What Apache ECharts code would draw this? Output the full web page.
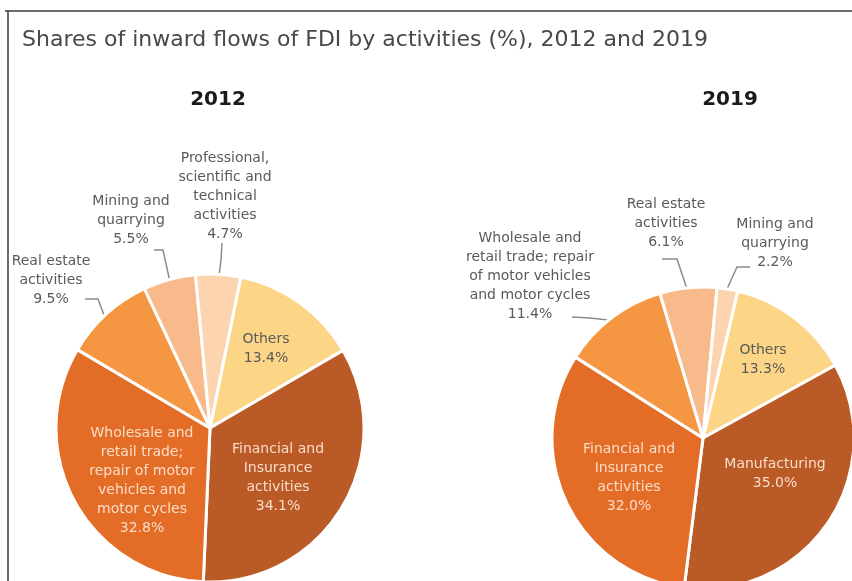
<!DOCTYPE html>
<html><head><meta charset="utf-8">
<script src="https://cdn.jsdelivr.net/npm/echarts@6/dist/echarts.min.js"></script>
<style>html,body{margin:0;padding:0;background:#fff}#c{width:852px;height:581px}</style>
</head><body><div id="c"></div>
<script>
const title = 'Shares of inward flows of FDI by activities (%), 2012 and 2019';
const years = ['2012', '2019'];

const categories2012 = ['Others', 'Financial and Insurance activities',
  'Wholesale and retail trade; repair of motor vehicles and motor cycles',
  'Real estate activities', 'Mining and quarrying',
  'Professional, scientific and technical activities'];
const values2012 = [13.4, 34.1, 32.8, 9.5, 5.5, 4.7];
const wrapped2012 = ['Others', 'Financial and\nInsurance\nactivities',
  'Wholesale and\nretail trade;\nrepair of motor\nvehicles and\nmotor cycles',
  'Real estate\nactivities', 'Mining and\nquarrying',
  'Professional,\nscientific and\ntechnical\nactivities'];

const categories2019 = ['Others', 'Manufacturing', 'Financial and Insurance activities',
  'Wholesale and retail trade; repair of motor vehicles and motor cycles',
  'Real estate activities', 'Mining and quarrying'];
const values2019 = [13.3, 35.0, 32.0, 11.4, 6.1, 2.2];
const wrapped2019 = ['Others', 'Manufacturing', 'Financial and\nInsurance\nactivities',
  'Wholesale and\nretail trade; repair\nof motor vehicles\nand motor cycles',
  'Real estate\nactivities', 'Mining and\nquarrying'];

// styles / layout (kept separate from data)
const colors2012 = ['#FDD587', '#B95A27', '#E36C26', '#F59642', '#F8BA8A', '#FCD4B0'];
const colors2019 = ['#FDD587', '#B95A27', '#E36C26', '#F59642', '#F8BA8A', '#FCD4B0'];
const inside2012 = [true, true, true, false, false, false];
const inside2019 = [true, true, true, false, false, false];
const labelXY = [
  [[266, 349], [278, 478], [142, 481], [51, 280], [131, 220], [225, 196]],
  [[763, 360], [775, 474], [629, 478], [530, 276], [666, 223], [775, 243]]
];
const leader = [
  [null, null, null, [[104, 315], [98, 299], [85, 299]], [[170, 282], [163, 250], [154, 250]], [[219, 276], [221, 260], [222, 243]]],
  [null, null, null, [[608, 320], [590, 318], [572, 317]], [[687, 289], [677, 259], [662, 259]], [[727, 289], [737, 267], [750, 267]]]
];

const FONT = '"DejaVu Sans", Roboto, sans-serif';

function buildData(cats, vals, wrapped, colors, inside) {
  return cats.map((c, i) => ({
    name: c,
    value: vals[i],
    itemStyle: { color: colors[i] },
    label: {
      position: inside[i] ? 'inside' : 'outside',
      formatter: wrapped[i] + '\n' + vals[i].toFixed(1) + '%',
      color: inside[i] ? (i === 0 ? '#5a5a5a' : '#FBDCC8') : '#5a5a5a'
    },
    labelLine: { show: !inside[i] }
  }));
}

function makeLayout(si) {
  return function (params) {
    const i = params.dataIndex;
    const p = labelXY[si][i];
    const out = { x: p[0], y: p[1], align: 'center', verticalAlign: 'middle' };
    if (leader[si][i]) out.labelLinePoints = leader[si][i];
    return out;
  };
}

const commonSeries = {
  type: 'pie',
  clockwise: true,
  avoidLabelOverlap: false,
  animation: false,
  silent: true,
  itemStyle: { borderColor: '#ffffff', borderWidth: 3 },
  label: { show: true, fontFamily: FONT, fontSize: 14, lineHeight: 19, align: 'center' },
  labelLine: { show: true, smooth: false, lineStyle: { color: '#8c8c8c', width: 1.5 } },
  emphasis: { disabled: true }
};

const chart = echarts.init(document.getElementById('c'), null, { renderer: 'canvas' });
chart.setOption({
  backgroundColor: '#ffffff',
  title: [
    { text: title, left: 17, top: 24, textStyle: { fontFamily: FONT, fontSize: 22, fontWeight: 'normal', color: '#484848' } },
    { text: years[0], left: 213, top: 85, textAlign: 'center', textStyle: { fontFamily: FONT, fontSize: 20, fontWeight: 'bold', color: '#1a1a1a' } },
    { text: years[1], left: 725, top: 85, textAlign: 'center', textStyle: { fontFamily: FONT, fontSize: 20, fontWeight: 'bold', color: '#1a1a1a' } }
  ],
  graphic: [
    { type: 'line', shape: { x1: 5, y1: 11, x2: 852, y2: 11 }, style: { stroke: '#3a3a3a', lineWidth: 1.5 } },
    { type: 'line', shape: { x1: 8, y1: 11, x2: 8, y2: 581 }, style: { stroke: '#3a3a3a', lineWidth: 1.5 } }
  ],
  series: [
    Object.assign({}, commonSeries, {
      name: years[0], center: [210, 428], radius: 154, startAngle: 78.5,
      data: buildData(categories2012, values2012, wrapped2012, colors2012, inside2012),
      labelLayout: makeLayout(0)
    }),
    Object.assign({}, commonSeries, {
      name: years[1], center: [703, 438], radius: 151, startAngle: 76.7,
      data: buildData(categories2019, values2019, wrapped2019, colors2019, inside2019),
      labelLayout: makeLayout(1)
    })
  ]
});
</script></body></html>
